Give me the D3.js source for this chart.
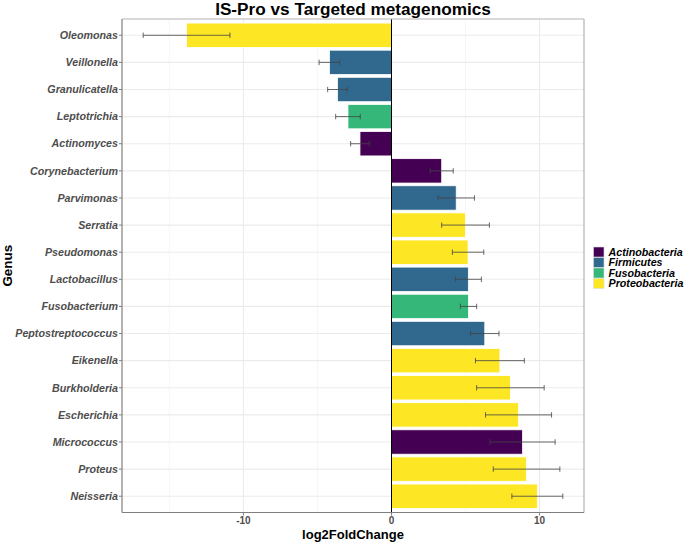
<!DOCTYPE html>
<html><head><meta charset="utf-8">
<script src="https://cdn.jsdelivr.net/npm/d3@7"></script>
<style>body{margin:0;background:#fff}svg{display:block}text{font-family:"Liberation Sans",Arial,sans-serif}</style>
</head><body><svg id="c" width="685" height="542"></svg>
<script>
const genera = ["Oleomonas","Veillonella","Granulicatella","Leptotrichia","Actinomyces","Corynebacterium","Parvimonas","Serratia","Pseudomonas","Lactobacillus","Fusobacterium","Peptostreptococcus","Eikenella","Burkholderia","Escherichia","Micrococcus","Proteus","Neisseria"];
const phylum = ["Proteobacteria","Firmicutes","Firmicutes","Fusobacteria","Actinobacteria","Actinobacteria","Firmicutes","Proteobacteria","Proteobacteria","Firmicutes","Fusobacteria","Firmicutes","Proteobacteria","Proteobacteria","Proteobacteria","Actinobacteria","Proteobacteria","Proteobacteria"];
const lfc = [-13.84,-4.19,-3.65,-2.94,-2.13,3.39,4.37,5.0,5.17,5.19,5.2,6.3,7.32,8.03,8.58,8.85,9.12,9.85];
const se = [2.93,0.7,0.66,0.83,0.63,0.78,1.23,1.61,1.06,0.88,0.55,0.96,1.65,2.28,2.23,2.2,2.25,1.72];
const phyla = ["Actinobacteria","Firmicutes","Fusobacteria","Proteobacteria"];
const phylaColors = ["#440154","#31688E","#35B779","#FDE725"];
const xTicks = [-10,0,10];
const xMinor = [-15,-5,5];

const svg = d3.select("#c");
const L=122, R=584, T=19, B=512.5;
const x = d3.scaleLinear().domain([-18.2,13.0]).range([L,R]);
// ggplot discrete expansion: 0.6 units each side
const y = d3.scalePoint().domain(genera).range([T,B]).padding(0.6);
const yc = d => y(d);
const step = y.step();
const color = d3.scaleOrdinal().domain(phyla).range(phylaColors);

// grid
const g = svg.append("g");
xMinor.forEach(v=>g.append("line").attr("x1",x(v)).attr("x2",x(v)).attr("y1",T).attr("y2",B).attr("stroke","#f0f0f0").attr("stroke-width",0.6));
xTicks.forEach(v=>g.append("line").attr("x1",x(v)).attr("x2",x(v)).attr("y1",T).attr("y2",B).attr("stroke","#ebebeb").attr("stroke-width",1.1));
genera.forEach(d=>g.append("line").attr("x1",L).attr("x2",R).attr("y1",yc(d)).attr("y2",yc(d)).attr("stroke","#ebebeb").attr("stroke-width",1.1));

// bars
const bw = step*0.9;
svg.append("g").selectAll("rect").data(genera).join("rect")
  .attr("x",(d,i)=>Math.min(x(0),x(lfc[i])))
  .attr("width",(d,i)=>Math.abs(x(lfc[i])-x(0)))
  .attr("y",d=>yc(d)-bw/2).attr("height",bw)
  .attr("fill",(d,i)=>color(phylum[i])).attr("stroke","#fff").attr("stroke-width",0.8);

// zero line
svg.append("line").attr("x1",x(0)).attr("x2",x(0)).attr("y1",T).attr("y2",B).attr("stroke","#000").attr("stroke-width",1);

// error bars
const eb = svg.append("g").attr("stroke","#444").attr("stroke-opacity",0.8).attr("stroke-width",1);
genera.forEach((d,i)=>{
  const c=yc(d), lo=x(lfc[i]-se[i]), hi=x(lfc[i]+se[i]), h=step*0.1;
  eb.append("line").attr("x1",lo).attr("x2",hi).attr("y1",c).attr("y2",c);
  eb.append("line").attr("x1",lo).attr("x2",lo).attr("y1",c-h).attr("y2",c+h);
  eb.append("line").attr("x1",hi).attr("x2",hi).attr("y1",c-h).attr("y2",c+h);
});

// border
svg.append("line").attr("x1",L).attr("x2",R).attr("y1",T).attr("y2",T).attr("stroke","#b3b3b3").attr("stroke-width",1.2);
svg.append("line").attr("x1",R).attr("x2",R).attr("y1",T).attr("y2",B).attr("stroke","#b3b3b3").attr("stroke-width",1.2);
svg.append("line").attr("x1",L).attr("x2",L).attr("y1",T).attr("y2",B).attr("stroke","#7f7f7f").attr("stroke-width",1.2);
svg.append("line").attr("x1",L).attr("x2",R).attr("y1",B).attr("y2",B).attr("stroke","#7f7f7f").attr("stroke-width",1.2);

// y axis ticks + labels
genera.forEach(d=>{
  svg.append("line").attr("x1",L-3).attr("x2",L).attr("y1",yc(d)).attr("y2",yc(d)).attr("stroke","#7f7f7f").attr("stroke-width",1);
  svg.append("text").attr("x",L-4).attr("y",yc(d)).attr("dy","0.35em").attr("text-anchor","end")
    .attr("font-size",10.7).attr("font-weight","bold").attr("font-style","italic").attr("fill","#4d4d4d").text(d);
});
// x axis ticks + labels
xTicks.forEach(v=>{
  svg.append("line").attr("x1",x(v)).attr("x2",x(v)).attr("y1",B).attr("y2",B+3).attr("stroke","#7f7f7f").attr("stroke-width",1);
  svg.append("text").attr("x",x(v)).attr("y",524).attr("text-anchor","middle")
    .attr("font-size",10).attr("font-weight","bold").attr("fill","#4d4d4d").text(v);
});

// titles
svg.append("text").attr("x",(L+R)/2).attr("y",14.5).attr("text-anchor","middle").attr("font-size",17.2).attr("font-weight","bold").attr("fill","#000").text("IS-Pro vs Targeted metagenomics");
svg.append("text").attr("x",(L+R)/2).attr("y",538.5).attr("text-anchor","middle").attr("font-size",13).attr("font-weight","bold").attr("fill","#000").text("log2FoldChange");
svg.append("text").attr("transform","translate(12,"+((T+B)/2)+") rotate(-90)").attr("text-anchor","middle").attr("font-size",13.4).attr("font-weight","bold").attr("fill","#000").text("Genus");

// legend
const lg = svg.append("g");
phyla.forEach((p,i)=>{
  const cy = 252 + i*10.5;
  lg.append("rect").attr("x",593.5).attr("y",cy-5).attr("width",10.5).attr("height",10).attr("fill",color(p)).attr("stroke","#ddd").attr("stroke-width",0.6);
  lg.append("text").attr("x",608.5).attr("y",cy).attr("dy","0.35em").attr("font-size",10.7).attr("font-weight","bold").attr("font-style","italic").attr("fill","#000").text(p);
});
</script></body></html>
